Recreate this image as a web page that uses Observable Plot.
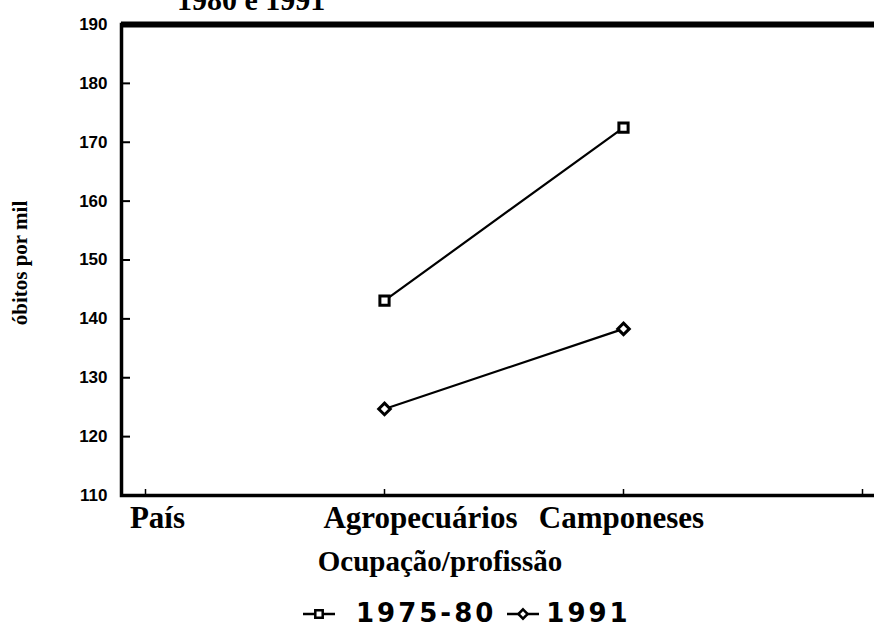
<!DOCTYPE html>
<html>
<head>
<meta charset="utf-8">
<script src="https://cdn.jsdelivr.net/npm/d3@7"></script>
<script src="https://cdn.jsdelivr.net/npm/@observablehq/plot@0.6"></script>
<style>
  html, body { margin: 0; padding: 0; background: #fff; }
  body { width: 874px; height: 640px; overflow: hidden; position: relative; }
  #chart { position: absolute; left: 0; top: 0; z-index: 1; }
  #title { position: absolute; left: 177px; top: -15px; z-index: 2; font: bold 30px/30px "Liberation Serif", serif; color: #000; white-space: nowrap; }
  #legend { position: absolute; left: 302px; top: 600px; z-index: 2; font: bold 26px/26px "DejaVu Sans", sans-serif; color: #000; display: flex; align-items: center; white-space: nowrap; }
  #legend .item { display: flex; align-items: center; }
  #legend svg { display: block; }
  #legend span { letter-spacing: 3px; }
</style>
</head>
<body>
<div id="chart"></div>
<div id="title"></div>
<div id="legend"></div>
<script>
// ---- data ----
const title = "1980 e 1991";
const categories = ["País", "Agropecuários", "Camponeses", " "];
const seriesNames = ["1975-80", "1991"];
const values1975_80 = [null, 143.1, 172.5, null];
const values1991 = [null, 124.7, 138.3, null];
const yTicks = [110, 120, 130, 140, 150, 160, 170, 180, 190];
const yLabel = "óbitos por mil";
const xLabel = "Ocupação/profissão";
const symbols = ["square", "diamond2"];

// ---- table ----
const rows = [];
[values1975_80, values1991].forEach((vals, i) => {
  vals.forEach((v, j) => {
    if (v != null) rows.push({series: seriesNames[i], cat: categories[j], value: v});
  });
});

const serif = "'Liberation Serif', 'Times New Roman', serif";
const labelDx = [12, 36, -2, 0];

const chart = Plot.plot({
  width: 874,
  height: 600,
  marginLeft: 121,
  marginRight: -12,
  marginTop: 24,
  marginBottom: 105,
  style: {background: "white", color: "black", fontFamily: "'Liberation Sans', Arial, sans-serif", overflow: "hidden"},
  x: {type: "point", domain: categories, padding: 0.1, label: null},
  y: {domain: [110, 190], label: null},
  symbol: {domain: seriesNames, range: symbols},
  marks: [
    Plot.frame({stroke: "black", strokeWidth: 3.5}),
    Plot.ruleY([190], {stroke: "black", strokeWidth: 6}),
    Plot.axisY(yTicks, {tickSize: -9, strokeWidth: 2, tickFormat: () => "", label: null}),
    Plot.text(yTicks, {y: d => d, frameAnchor: "left", textAnchor: "end", dx: -14,
      fontFamily: "'Liberation Sans', Arial, sans-serif", fontWeight: "bold", fontSize: 17, fill: "black"}),
    Plot.axisX(categories, {tickSize: -6, strokeWidth: 1.5, tickFormat: () => "", label: null}),
    ...categories.map((c, i) => Plot.text([c], {
      x: d => d, frameAnchor: "bottom", lineAnchor: "top", dy: 10, dx: labelDx[i],
      fontFamily: serif, fontWeight: "bold", fontSize: 31, fill: "black"
    })),
    Plot.text([xLabel], {frameAnchor: "bottom", lineAnchor: "top", dy: 55, dx: -64,
      fontFamily: serif, fontWeight: "bold", fontSize: 29, fill: "black"}),
    Plot.text([yLabel], {frameAnchor: "left", textAnchor: "middle", rotate: -90, dx: -101, dy: 3,
      fontFamily: serif, fontWeight: "bold", fontSize: 21, fill: "black"}),
    Plot.line(rows, {x: "cat", y: "value", z: "series", stroke: "black", strokeWidth: 2.2}),
    Plot.dot(rows, {x: "cat", y: "value", symbol: "series", r: 5.2, fill: "white", stroke: "black", strokeWidth: 3})
  ]
});
document.getElementById("chart").appendChild(chart);
document.getElementById("title").textContent = title;

// ---- legend ----
const legend = d3.select("#legend");
const symMap = {square: d3.symbolSquare, diamond2: d3.symbolDiamond2};
const gapAfterMarker = [20, 6];
const gapAfterItem = [10, 0];
seriesNames.forEach((name, i) => {
  const item = legend.append("div").attr("class", "item").style("margin-right", gapAfterItem[i] + "px");
  const s = item.append("svg").attr("width", 34).attr("height", 18).style("margin-right", gapAfterMarker[i] + "px");
  s.append("line").attr("x1", 1).attr("x2", 33).attr("y1", 10).attr("y2", 10).attr("stroke", "black").attr("stroke-width", 2.5);
  s.append("path").attr("transform", "translate(17,10)")
    .attr("d", d3.symbol(symMap[symbols[i]], 55)())
    .attr("fill", "white").attr("stroke", "black").attr("stroke-width", 2.5);
  item.append("span").text(name);
});
</script>
</body>
</html>
